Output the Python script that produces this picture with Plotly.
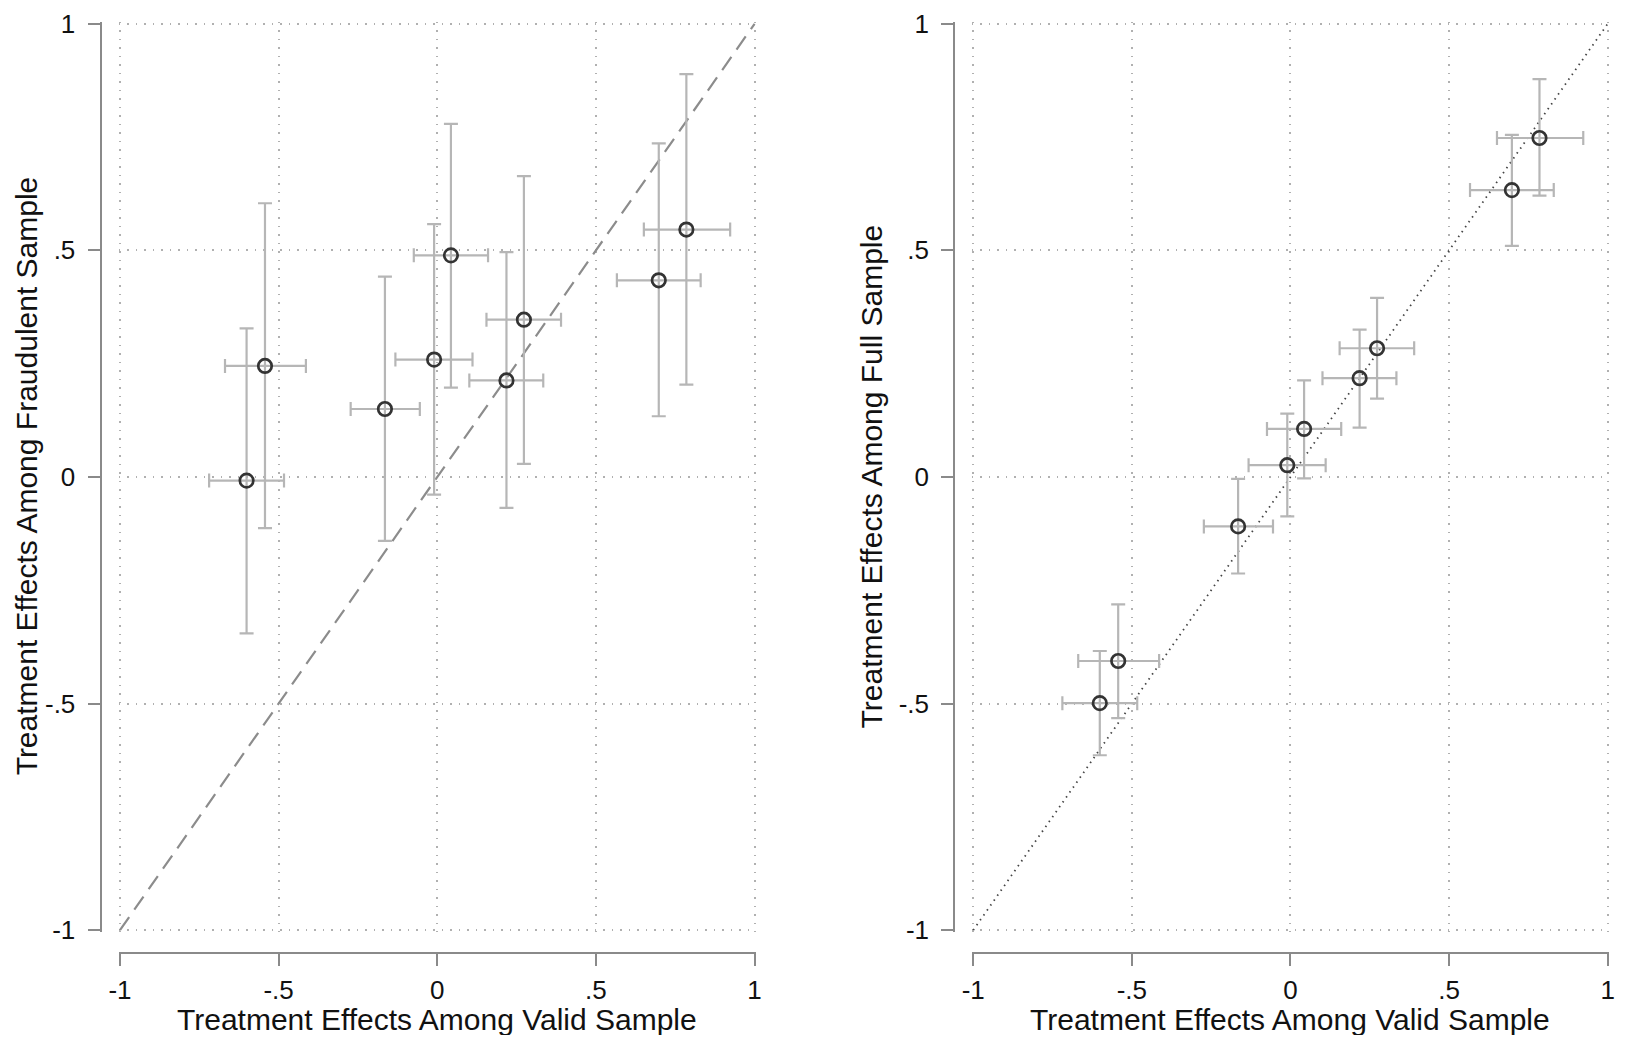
import plotly.graph_objects as go

# estimates and 95% CIs, one row per subgroup
valid_est = [-0.601, -0.543, -0.165, -0.010, 0.043, 0.218, 0.273, 0.698, 0.785]
valid_lo = [-0.719, -0.669, -0.273, -0.132, -0.074, 0.101, 0.155, 0.566, 0.651]
valid_hi = [-0.483, -0.414, -0.055, 0.111, 0.160, 0.334, 0.390, 0.830, 0.923]

fraud_est = [-0.008, 0.245, 0.150, 0.259, 0.489, 0.213, 0.347, 0.434, 0.546]
fraud_lo = [-0.345, -0.113, -0.141, -0.039, 0.197, -0.068, 0.029, 0.134, 0.204]
fraud_hi = [0.328, 0.604, 0.442, 0.558, 0.779, 0.496, 0.664, 0.736, 0.889]

full_est = [-0.499, -0.406, -0.109, 0.026, 0.106, 0.218, 0.284, 0.633, 0.748]
full_lo = [-0.614, -0.532, -0.213, -0.087, -0.003, 0.109, 0.173, 0.510, 0.621]
full_hi = [-0.384, -0.281, -0.004, 0.140, 0.213, 0.325, 0.395, 0.755, 0.878]

diag = [-1, 1]
tick_vals = [-1, -0.5, 0, 0.5, 1]
tick_text = ["-1", "-.5", "0", ".5", "1"]

FONT = "Liberation Sans, Arial, sans-serif"
CI_COLOR = "#b6b6b6"
MARK_COLOR = "#333333"
AXIS_COLOR = "#8a8a8a"
GRID_COLOR = "#b0b0b0"

# page has an 8px body margin, so the figure is 16px smaller than the window
W, H = 1609, 1027


def err(est, lo, hi):
    return dict(
        type="data", symmetric=False,
        array=[h - e for e, h in zip(est, hi)],
        arrayminus=[e - l for e, l in zip(est, lo)],
        color=CI_COLOR, thickness=2.2, width=7,
    )


fig = go.Figure()

# left panel: fraudulent vs valid, dashed 45 degree line
fig.add_trace(go.Scatter(x=diag, y=diag, mode="lines", xaxis="x", yaxis="y",
                         line=dict(color="#8c8c8c", width=2.2, dash="16px,9px")))
fig.add_trace(go.Scatter(
    x=valid_est, y=fraud_est, mode="markers", xaxis="x", yaxis="y",
    error_x=err(valid_est, valid_lo, valid_hi),
    error_y=err(fraud_est, fraud_lo, fraud_hi),
    marker=dict(symbol="circle-open", size=13.5, color=MARK_COLOR,
                line=dict(width=2.7, color=MARK_COLOR)),
))

# right panel: full vs valid, dotted 45 degree line
fig.add_trace(go.Scatter(x=diag, y=diag, mode="lines", xaxis="x2", yaxis="y2",
                         line=dict(color="#444444", width=1.8, dash="1.5px,4.5px")))
fig.add_trace(go.Scatter(
    x=valid_est, y=full_est, mode="markers", xaxis="x2", yaxis="y2",
    error_x=err(valid_est, valid_lo, valid_hi),
    error_y=err(full_est, full_lo, full_hi),
    marker=dict(symbol="circle-open", size=13.5, color=MARK_COLOR,
                line=dict(width=2.7, color=MARK_COLOR)),
))

axis_common = dict(
    range=[-1.004, 1.004], tickvals=tick_vals, ticktext=tick_text,
    showline=True, linecolor=AXIS_COLOR, linewidth=2,
    ticks="outside", ticklen=12, tickwidth=2, tickcolor=AXIS_COLOR,
    showgrid=True, gridcolor=GRID_COLOR, gridwidth=1.5, griddash="1.5px,7px",
    zeroline=False, tickfont=dict(family=FONT, size=26, color="#111111"),
    ticklabeloverflow="allow",
    automargin=False, fixedrange=True,
)
x_common = dict(axis_common, ticklabelstandoff=2)
y_common = dict(axis_common, ticklabelstandoff=7)

y_dom = [0.1003, 0.9864]
x_pos = 0.0798

fig.update_layout(
    width=W, height=H,
    margin=dict(l=0, r=0, t=0, b=0),
    paper_bgcolor="white", plot_bgcolor="white",
    showlegend=False,
    font=dict(family=FONT, size=26, color="#111111"),
    xaxis=dict(x_common, domain=[0.0688, 0.4648], anchor="free", position=x_pos),
    yaxis=dict(y_common, domain=y_dom, anchor="free", position=0.0575),
    xaxis2=dict(x_common, domain=[0.5991, 0.9950], anchor="free", position=x_pos),
    yaxis2=dict(y_common, domain=y_dom, anchor="free", position=0.5881),
)

titles = [
    ("Treatment Effects Among Valid Sample", 0.2668, 0.0150, 0),
    ("Treatment Effects Among Valid Sample", 0.7970, 0.0150, 0),
    ("Treatment Effects Among Fraudulent Sample", 0.0112, 0.5440, -90),
    ("Treatment Effects Among Full Sample", 0.5364, 0.5440, -90),
]
for text, x, y, ang in titles:
    fig.add_annotation(text=text, x=x, y=y, xref="paper", yref="paper",
                       xanchor="center", yanchor="middle", textangle=ang,
                       showarrow=False, font=dict(family=FONT, size=30, color="#111111"))

fig.write_html("out.html")
